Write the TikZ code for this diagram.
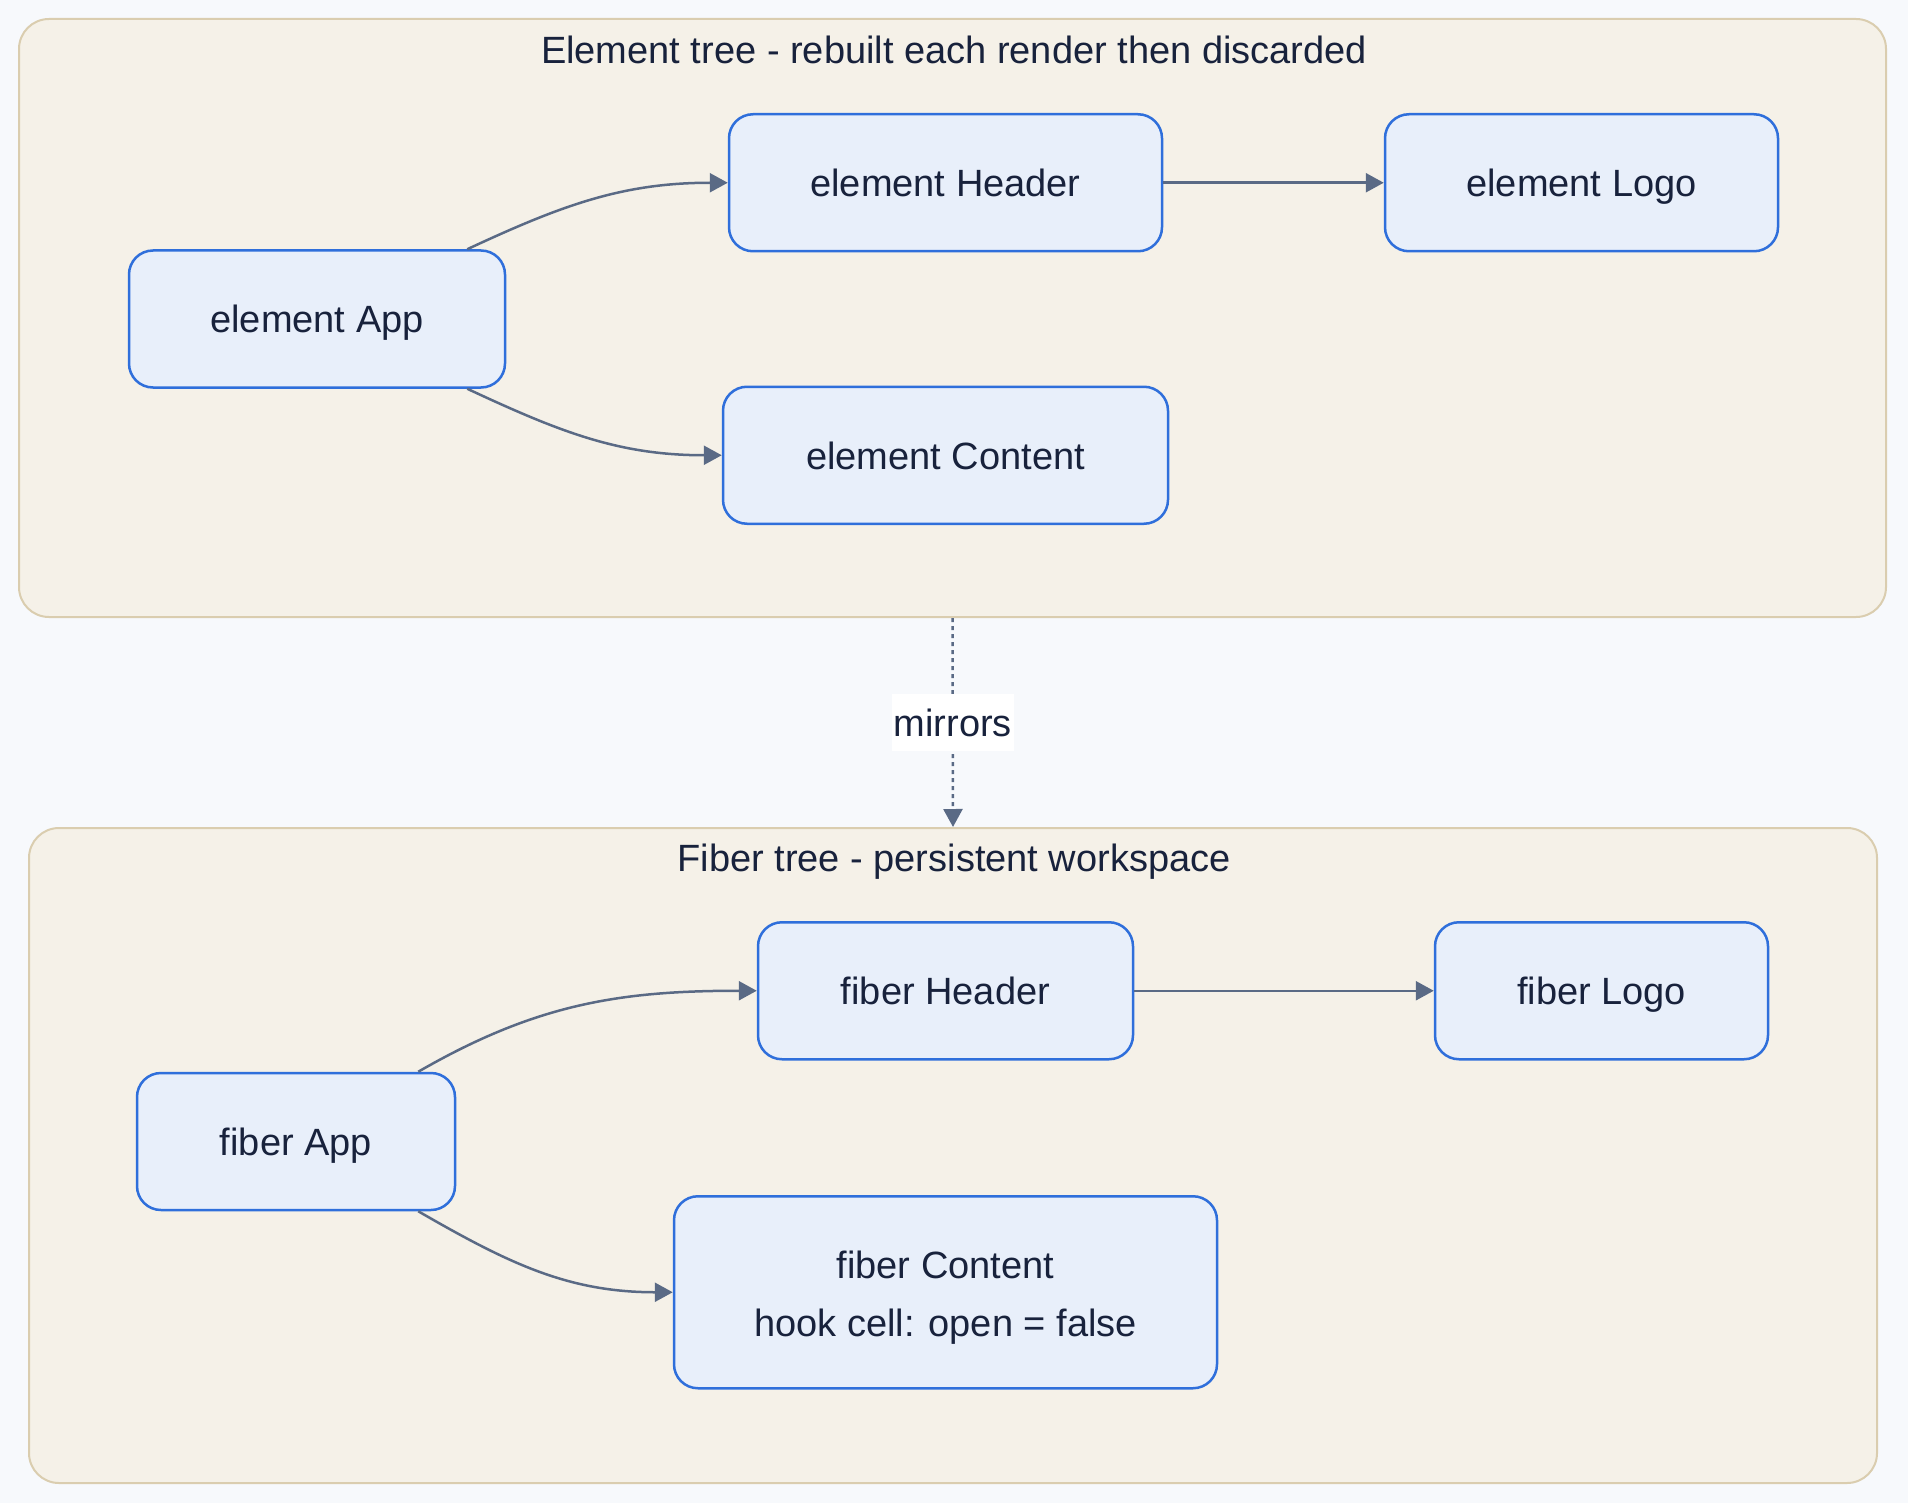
\documentclass[tikz,border=0pt]{standalone}
\usepackage{fontspec}
\setmainfont{Liberation Sans}
\usetikzlibrary{arrows.meta}
\definecolor{pagebg}{HTML}{F7F9FC}
\definecolor{clusterfill}{HTML}{F5F1E8}
\definecolor{clusterline}{HTML}{DACDAF}
\definecolor{blockfill}{HTML}{E8EFFA}
\definecolor{blockline}{HTML}{2F6FDB}
\definecolor{ink}{HTML}{18223C}
\definecolor{wireline}{HTML}{5A6A85}
\begin{document}
\begin{tikzpicture}[x=1pt, y=-1pt,
            every node/.style={text=ink, font=\fontsize{38pt}{58pt}\selectfont},
            cluster/.style={draw=clusterline, fill=clusterfill, line width=2pt, rounded corners=30pt},
            caption/.style={text height=35.5pt, text depth=8pt},
            boxbase/.style={draw=blockline, fill=blockfill, line width=2.5pt, rounded corners=24pt, minimum height=137pt, align=center},
            block/.style={boxbase, text height=36pt, text depth=8pt},
            tallblock/.style={boxbase, minimum height=192pt, text height=96pt, text depth=8pt},
            wire/.style={draw=wireline, line width=2.5pt, -{Triangle[length=18pt, width=19pt]}},
            tag/.style={fill=white, inner xsep=2pt, minimum height=57pt},
            edge from parent/.style={draw=none}]
            \fill[pagebg] (0,0) rectangle (1908,1503);
            \node[cluster, minimum width=1867pt, minimum height=598pt] (eTree) at (952.5,318) {};
            \node[cluster, minimum width=1848pt, minimum height=655pt] (fTree) at (953,1155.5) {};
            \node[caption] (eTitle) at (954,50) {Element tree - rebuilt each render then discarded};
            \node[caption] (fTitle) at (954,858) {Fiber tree - persistent workspace};
            \node[block, minimum width=376pt] (eApp) at (317,319) {element App}
                [grow'=right, level distance=628.5pt, sibling distance=272.5pt,
                 level 2/.style={level distance=636pt}]
                child {node[block, minimum width=433pt] (eHeader) {element Header}
                    child {node[block, minimum width=393pt] (eLogo) {element Logo}}
                    }
                child {node[block, minimum width=445pt] (eContent) {element Content}};
            \node[block, minimum width=318pt] (fApp) at (296,1141.5) {fiber App}
                [grow'=right, level distance=649.5pt, sibling distance=301.5pt,
                 level 2/.style={level distance=656pt}]
                child {node[block, minimum width=375pt] (fHeader) {fiber Header}
                    child {node[block, minimum width=333pt] (fLogo) {fiber Logo}}
                    }
                child {node[tallblock, minimum width=543pt] (fContent) {fiber Content\\hook cell: open = false}};
            \draw[wire] ([xshift=-39pt]eApp.north east) to[out=25, in=180] (eHeader.west);
            \draw[wire] ([xshift=-39pt]eApp.south east) to[out=-25, in=180] (eContent.west);
            \draw[wire] (eHeader) -- (eLogo);
            \draw[wire] ([xshift=-38pt]fApp.north east) to[out=30, in=180] (fHeader.west);
            \draw[wire] ([xshift=-38pt]fApp.south east) to[out=-30, in=180] (fContent.west);
            \draw[wire] (fHeader) -- (fLogo);
            \draw[wire, dash pattern=on 4pt off 4pt] (eTree.south) -- node[tag] {mirrors} (fTree.north);
        \end{tikzpicture}
\end{document}
